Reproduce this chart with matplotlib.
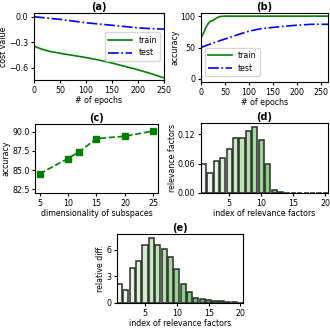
import numpy as np
import matplotlib
matplotlib.use("Agg")
import matplotlib.pyplot as plt

# (a) cost value vs epochs
epochs_a = [0, 10, 25, 50, 75, 100, 125, 150, 175, 200, 225, 250]
cost_train = [-0.345, -0.37, -0.40, -0.43, -0.455, -0.48, -0.51, -0.545, -0.585, -0.625, -0.67, -0.72]
cost_test = [0.0, -0.005, -0.015, -0.03, -0.05, -0.07, -0.085, -0.10, -0.115, -0.13, -0.14, -0.145]

# (b) accuracy vs epochs
epochs_train_b = [0, 3, 6, 10, 15, 20, 25, 30, 35, 40, 50, 100, 150, 200, 265]
acc_train = [65, 70, 74, 82, 88, 92, 93, 96, 98, 99.5, 100, 100, 100, 100, 100]
epochs_test_b = [0, 10, 25, 40, 60, 75, 100, 125, 150, 175, 200, 230, 265]
acc_test = [50, 53, 57, 61, 66, 70, 76, 80, 82, 84, 85.5, 87, 87]

# (c) accuracy vs dimensionality of subspaces
dims = [5, 10, 12, 15, 20, 25]
acc_dims = [84.5, 86.5, 87.4, 89.1, 89.4, 90.1]

# (d) relevance factors
idx = np.arange(1, 21)
relevance = [0.060, 0.040, 0.065, 0.071, 0.090, 0.112, 0.113, 0.126, 0.135, 0.107,
             0.060, 0.006, 0.0012, 0.001, 0.001, 0.001, 0.001, 0.001, 0.001, 0.001]

# (e) relative difference
rel_diff = [2.2, 1.5, 4.0, 4.7, 6.6, 7.4, 6.6, 6.1, 5.2, 3.8,
            2.1, 1.2, 0.55, 0.4, 0.32, 0.25, 0.18, 0.12, 0.08, 0.05]

plt.rcParams.update({"font.size": 5.7, "axes.linewidth": 0.8,
                     "xtick.major.size": 2.5, "ytick.major.size": 2.5,
                     "xtick.major.pad": 1.5, "ytick.major.pad": 1.5})

fig = plt.figure(figsize=(3.3, 3.3), dpi=100)
W, H = 330, 330


def add_ax(left, top, right, bottom):
    return fig.add_axes([left / W, 1 - bottom / H, (right - left) / W, (bottom - top) / H])


bar_colors = plt.cm.Greens(np.linspace(0.05, 0.8, 20))
title_kw = dict(fontweight="bold", fontsize=7, pad=2)

# (a)
ax = add_ax(34, 13, 164, 80)
ax.plot(epochs_a, cost_train, color="green", lw=1.2, label="train")
ax.plot(epochs_a, cost_test, color="blue", lw=1.2, ls="-.", label="test")
ax.set_xlim(0, 250)
ax.set_ylim(-0.745, 0.045)
ax.set_yticks([0.0, -0.3, -0.6])
ax.set_xticks([0, 50, 100, 150, 200, 250])
ax.set_xlabel("# of epochs", labelpad=1)
ax.set_ylabel("cost value", labelpad=1)
ax.set_title("(a)", **title_kw)
ax.legend(loc="center right", bbox_to_anchor=(1.0, 0.5), fontsize=5.7, handlelength=3.0)

# (b)
ax = add_ax(201, 13, 328, 82)
ax.plot(epochs_train_b, acc_train, color="green", lw=1.2, label="train")
ax.plot(epochs_test_b, acc_test, color="blue", lw=1.2, ls="-.", label="test")
ax.set_xlim(0, 265)
ax.set_ylim(-5, 105)
ax.set_yticks([0, 50, 100])
ax.set_xticks([0, 50, 100, 150, 200, 250])
ax.set_xlabel("# of epochs", labelpad=1)
ax.set_ylabel("accuracy", labelpad=1)
ax.set_title("(b)", **title_kw)
ax.legend(loc="lower left", bbox_to_anchor=(0.0, 0.03), fontsize=5.7, handlelength=3.0)

# (c)
ax = add_ax(35, 124, 158, 193)
ax.plot(dims, acc_dims, color="green", lw=1.2, ls="--", marker="s", markersize=4)
ax.set_xlim(4.2, 25.8)
ax.set_ylim(82.0, 91.0)
ax.set_yticks([82.5, 85.0, 87.5, 90.0])
ax.set_xticks([5, 10, 15, 20, 25])
ax.set_xlabel("dimensionality of subspaces", labelpad=1)
ax.set_ylabel("accuracy", labelpad=1)
ax.set_title("(c)", **title_kw)

# (d)
ax = add_ax(201, 123, 328, 193)
ax.bar(idx, relevance, width=0.8, color=bar_colors, edgecolor="#2b2b2b", linewidth=1.1)
ax.set_xlim(0.6, 20.4)
ax.set_ylim(0, 0.1426)
ax.set_yticks([0.00, 0.06, 0.12])
ax.set_yticklabels(["0.00", "0.06", "0.12"])
ax.set_xticks([5, 10, 15, 20])
ax.set_xlabel("index of relevance factors", labelpad=1)
ax.set_ylabel("relevance factors", labelpad=1)
ax.set_title("(d)", **title_kw)

# (e)
ax = add_ax(117, 234, 243, 303)
ax.bar(idx, rel_diff, width=0.8, color=bar_colors, edgecolor="#2b2b2b", linewidth=1.1)
ax.set_xlim(0.6, 20.4)
ax.set_ylim(0, 7.8)
ax.set_yticks([0, 3, 6])
ax.set_xticks([5, 10, 15, 20])
ax.set_xlabel("index of relevance factors", labelpad=1)
ax.set_ylabel("relative diff.", labelpad=1)
ax.set_title("(e)", **title_kw)

fig.savefig("out.png", dpi=100)
plt.close(fig)
